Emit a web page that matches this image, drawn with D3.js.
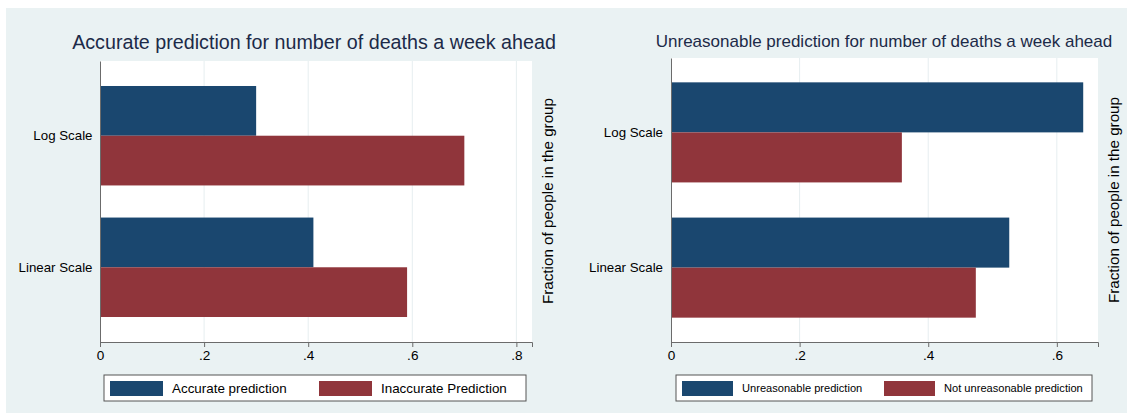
<!DOCTYPE html>
<html>
<head>
<meta charset="utf-8">
<script src="https://cdn.jsdelivr.net/npm/d3@7"></script>
<style>
  body { margin: 0; background: #fff; }
  svg { display: block; font-family: "Liberation Sans", Arial, Helvetica, sans-serif; }
</style>
</head>
<body>
<svg id="chart" width="1132" height="416"></svg>
<script>
// data
var categories = ["Log Scale", "Linear Scale"];
var accurate = [0.30, 0.41];
var inaccurate = [0.70, 0.59];
var unreasonable = [0.641, 0.526];
var notUnreasonable = [0.359, 0.474];
var ticksLeft = [0, 0.2, 0.4, 0.6, 0.8];
var ticksRight = [0, 0.2, 0.4, 0.6];
var seriesLeft = ["Accurate prediction", "Inaccurate Prediction"];
var seriesRight = ["Unreasonable prediction", "Not unreasonable prediction"];

var navy = "#1a476f", maroon = "#90353b";

var svg = d3.select("#chart");

svg.append("rect")
  .attr("x", 6).attr("y", 8)
  .attr("width", 1121).attr("height", 405)
  .attr("fill", "#eaf2f3");

// ".2" style tick labels like stata
var fmt = function (v) {
  if (v === 0) return "0";
  return d3.format(".1f")(v).replace(/^0/, "");
};

var drawPanel = function (p) {
  var g = svg.append("g");

  var x = d3.scaleLinear().domain([0, p.xMax]).range([p.left, p.right]);
  var y = d3.scaleBand().domain(categories)
    .range([p.top, p.bottom])
    .paddingInner(p.padIn).paddingOuter(p.padOut);
  var sub = d3.scaleBand().domain([0, 1]).range([0, y.bandwidth()]);

  g.append("rect")
    .attr("x", p.left).attr("y", p.top)
    .attr("width", p.right - p.left).attr("height", p.bottom - p.top)
    .attr("fill", "#fff");

  // gridlines
  g.selectAll("line.grid").data(p.ticks.filter(function (d) { return d > 0; }))
    .enter().append("line")
    .attr("class", "grid")
    .attr("x1", function (d) { return x(d); })
    .attr("x2", function (d) { return x(d); })
    .attr("y1", p.top).attr("y2", p.bottom)
    .attr("stroke", "#e6eef0").attr("stroke-width", 1);

  var rows = categories.map(function (c, i) {
    return { cat: c, vals: [p.a[i], p.b[i]] };
  });

  var grp = g.selectAll("g.cat").data(rows).enter().append("g")
    .attr("transform", function (d) { return "translate(0," + y(d.cat) + ")"; });

  grp.selectAll("rect").data(function (d) { return d.vals; })
    .enter().append("rect")
    .attr("x", x(0))
    .attr("y", function (d, i) { return sub(i); })
    .attr("width", function (d) { return x(d) - x(0); })
    .attr("height", sub.bandwidth())
    .attr("fill", function (d, i) { return i === 0 ? navy : maroon; });

  // x axis
  var xAxis = d3.axisBottom(x).tickValues(p.ticks).tickFormat(fmt).tickSize(5).tickPadding(3);
  var xa = g.append("g").attr("transform", "translate(0," + p.bottom + ")").call(xAxis);
  xa.select(".domain").attr("stroke", "#6b6b6b");
  xa.selectAll(".tick line").attr("stroke", "#6b6b6b");
  xa.selectAll("text").attr("font-size", "13.6px").attr("fill", "#000")
    .attr("font-family", "'Liberation Sans', Arial, sans-serif");

  // y axis
  var yAxis = d3.axisLeft(y).tickSize(0).tickPadding(p.labelPad);
  var ya = g.append("g").attr("transform", "translate(" + p.left + ",0)").call(yAxis);
  ya.select(".domain").attr("stroke", "#6b6b6b");
  ya.selectAll("text").attr("font-size", "13.3px").attr("fill", "#000")
    .attr("font-family", "'Liberation Sans', Arial, sans-serif");

  // title
  g.append("text")
    .attr("x", p.titleX).attr("y", p.titleY)
    .attr("text-anchor", "middle")
    .attr("font-size", p.titleSize)
    .attr("fill", "#1c2a48")
    .text(p.title);

  // right side axis title
  g.append("text")
    .attr("transform", "translate(" + p.yTitleX + "," + p.yTitleY + ") rotate(-90)")
    .attr("text-anchor", "middle")
    .attr("dy", "0.35em")
    .attr("font-size", "15.2px")
    .attr("fill", "#000")
    .text("Fraction of people in the group");

  // legend
  var lg = g.append("g");
  lg.append("rect")
    .attr("x", p.leg.x).attr("y", p.leg.y)
    .attr("width", p.leg.w).attr("height", p.leg.h)
    .attr("fill", "#fff").attr("stroke", "#555").attr("stroke-width", 1);

  var items = lg.selectAll("g.item").data(p.series).enter().append("g")
    .attr("transform", function (d, i) { return "translate(" + p.leg.items[i] + "," + p.leg.y + ")"; });
  items.append("rect")
    .attr("x", 0).attr("y", 6)
    .attr("width", p.leg.sw).attr("height", 15)
    .attr("fill", function (d, i) { return i === 0 ? navy : maroon; });
  items.append("text")
    .attr("x", p.leg.sw + p.leg.gap).attr("y", 13.5)
    .attr("dy", "0.35em")
    .attr("font-size", p.leg.fs)
    .attr("fill", "#000")
    .text(function (d) { return d; });
};

drawPanel({
  a: accurate, b: inaccurate, series: seriesLeft, ticks: ticksLeft,
  xMax: 0.83, left: 100, right: 532, top: 61, bottom: 342,
  padIn: 0.244, padOut: 0.19, labelPad: 7.5,
  title: "Accurate prediction for number of deaths a week ahead",
  titleX: 314, titleY: 49, titleSize: "19.7px",
  yTitleX: 548, yTitleY: 201,
  leg: { x: 104, y: 375, w: 422, h: 26, items: [110, 319], sw: 53, gap: 9, fs: "13.4px" }
});

drawPanel({
  a: unreasonable, b: notUnreasonable, series: seriesRight, ticks: ticksRight,
  xMax: 0.664, left: 671, right: 1098, top: 58, bottom: 342,
  padIn: 0.26, padOut: 0.18, labelPad: 8,
  title: "Unreasonable prediction for number of deaths a week ahead",
  titleX: 884, titleY: 47, titleSize: "17px",
  yTitleX: 1114, yTitleY: 200,
  leg: { x: 676, y: 375, w: 416, h: 26, items: [682, 884], sw: 51, gap: 9, fs: "11.1px" }
});
</script>
</body>
</html>
